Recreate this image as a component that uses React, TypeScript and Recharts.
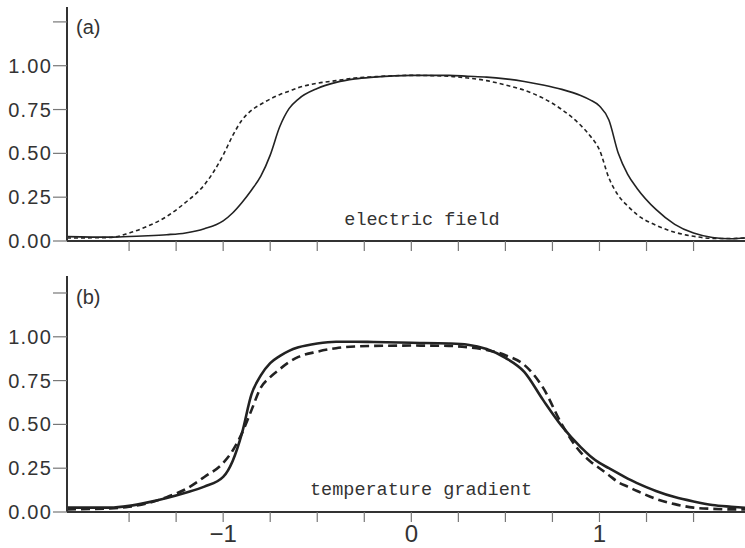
import { LineChart, Line, XAxis, YAxis } from "recharts";

// shared x grid for both panels
const xGrid = [
  -1.83, -1.6, -1.5, -1.4, -1.3, -1.2, -1.1, -1.0, -0.95, -0.9, -0.85, -0.8, -0.75, -0.7, -0.65, -0.6,
  -0.5, -0.4, -0.3, -0.2, 0, 0.2, 0.3, 0.4, 0.5, 0.6, 0.7, 0.8, 0.9, 0.95, 1.0, 1.05, 1.1, 1.15, 1.2,
  1.3, 1.4, 1.5, 1.6, 1.7, 1.8,
];

// (a) electric field
const fieldSolid = [
  0.025, 0.022, 0.026, 0.03, 0.036, 0.046, 0.07, 0.115, 0.16, 0.22, 0.29, 0.37, 0.49, 0.65, 0.755, 0.81,
  0.87, 0.905, 0.925, 0.935, 0.945, 0.945, 0.94, 0.935, 0.925, 0.91, 0.89, 0.865, 0.83, 0.805, 0.77, 0.69,
  0.5, 0.38, 0.3, 0.18, 0.095, 0.045, 0.02, 0.013, 0.02,
];
const fieldDashed = [
  0.017, 0.02, 0.045, 0.085, 0.14, 0.22, 0.32, 0.49, 0.6, 0.69, 0.745, 0.78, 0.81, 0.835, 0.855, 0.875,
  0.9, 0.915, 0.93, 0.937, 0.945, 0.94, 0.93, 0.915, 0.89, 0.86, 0.815, 0.75, 0.66, 0.6, 0.52, 0.36,
  0.26, 0.2, 0.15, 0.09, 0.05, 0.027, 0.015, 0.014, 0.02,
];

// (b) temperature gradient
const gradSolid = [
  0.025, 0.025, 0.035, 0.055, 0.08, 0.11, 0.145, 0.2, 0.29, 0.45, 0.67, 0.78, 0.85, 0.89, 0.92, 0.94,
  0.962, 0.972, 0.972, 0.97, 0.966, 0.962, 0.955, 0.93, 0.88, 0.8, 0.64, 0.49, 0.37, 0.32, 0.28, 0.25,
  0.22, 0.19, 0.165, 0.12, 0.085, 0.06, 0.04, 0.03, 0.022,
];
const gradDashed = [
  0.015, 0.02, 0.03, 0.05, 0.085, 0.13, 0.2, 0.28, 0.35, 0.45, 0.58, 0.71, 0.77, 0.815, 0.855, 0.885,
  0.915, 0.935, 0.945, 0.948, 0.95, 0.948, 0.94, 0.925, 0.895, 0.84, 0.71, 0.5, 0.34, 0.29, 0.25, 0.21,
  0.17, 0.145, 0.12, 0.075, 0.045, 0.025, 0.018, 0.015, 0.015,
];

const yTicks = [0, 0.25, 0.5, 0.75, 1, 1.25];
const xTicks = [-1.5, -1.25, -1, -0.75, -0.5, -0.25, 0, 0.25, 0.5, 0.75, 1, 1.25, 1.5];
const xLabels: Record<string, string> = { "-1": "\u22121", "0": "0", "1": "1" };

const dataA = xGrid.map((x, i) => ({ x, solid: fieldSolid[i], dashed: fieldDashed[i] }));
const dataB = xGrid.map((x, i) => ({ x, solid: gradSolid[i], dashed: gradDashed[i] }));

const INK = "#222";
const AXIS = "#333";
const TICK = "#777";
const font = "'Liberation Sans', Arial, sans-serif";
const mono = "'Liberation Mono', 'DejaVu Sans Mono', monospace";

function Panel({
  data,
  height,
  top,
  yMax,
  showXLabels,
  width,
  dash,
}: {
  data: { x: number; solid: number; dashed: number }[];
  height: number;
  top: number;
  yMax: number;
  showXLabels: boolean;
  width: number;
  dash: string;
}) {
  return (
    <LineChart
      width={752}
      height={height}
      data={data}
      margin={{ top, right: 2, bottom: 0, left: 0 }}
    >
      <XAxis
        dataKey="x"
        type="number"
        domain={[-1.83, 1.8]}
        ticks={xTicks}
        allowDataOverflow
        height={height - top - Math.round(yMax * 175.3)}
        tickSize={10}
        tickMargin={3}
        axisLine={{ stroke: AXIS, strokeWidth: 2 }}
        tickLine={{ stroke: TICK, strokeWidth: 1.2 }}
        tick={{ fill: "#333", fontSize: 24, fontFamily: font }}
        tickFormatter={(v: number) => (showXLabels ? xLabels[String(v)] ?? "" : "")}
        interval={0}
      />
      <XAxis
        xAxisId="top"
        dataKey="x"
        type="number"
        orientation="top"
        domain={[-1.83, 1.8]}
        height={0}
        tick={false}
        tickLine={false}
        axisLine={{ stroke: AXIS, strokeWidth: 2 }}
      />
      <YAxis
        type="number"
        domain={[0, yMax]}
        ticks={yTicks}
        width={67}
        tickSize={14}
        tickMargin={1}
        interval={0}
        axisLine={{ stroke: AXIS, strokeWidth: 2 }}
        tickLine={{ stroke: TICK, strokeWidth: 1.2 }}
        tick={{ fill: "#333", fontSize: 20, fontFamily: font, letterSpacing: 1.2 }}
        tickFormatter={(v: number) => (v === 1.25 ? "" : v.toFixed(2))}
      />
      <Line
        type="monotone"
        dataKey="solid"
        stroke={INK}
        strokeWidth={width}
        dot={false}
        isAnimationActive={false}
      />
      <Line
        type="monotone"
        dataKey="dashed"
        stroke={INK}
        strokeWidth={width}
        strokeDasharray={dash}
        dot={false}
        isAnimationActive={false}
      />
    </LineChart>
  );
}

export default function App() {
  return (
    <div
      style={{
        position: "absolute",
        left: 0,
        top: 0,
        width: 745,
        height: 548,
        overflow: "hidden",
        background: "#fff",
      }}
    >
      <div style={{ position: "absolute", left: 0, top: 0 }}>
        <Panel data={dataA} height={275} top={7} yMax={1.335} showXLabels={false} width={1.6} dash="4 3" />
      </div>
      <div style={{ position: "absolute", left: 0, top: 270 }}>
        <Panel data={dataB} height={278} top={6} yMax={1.347} showXLabels width={2.6} dash="9 5" />
      </div>
      <svg
        width={745}
        height={548}
        style={{ position: "absolute", left: 0, top: 0, pointerEvents: "none" }}
      >
        <text x={76} y={34} fontSize={20} fontFamily={font} fill="#333">
          (a)
        </text>
        <text x={76} y={304} fontSize={20} fontFamily={font} fill="#333">
          (b)
        </text>
        <text x={422} y={225} fontSize={18.5} fontFamily={mono} fill="#333" textAnchor="middle">
          electric field
        </text>
        <text x={421} y={495} fontSize={18.5} fontFamily={mono} fill="#333" textAnchor="middle">
          temperature gradient
        </text>
      </svg>
    </div>
  );
}
